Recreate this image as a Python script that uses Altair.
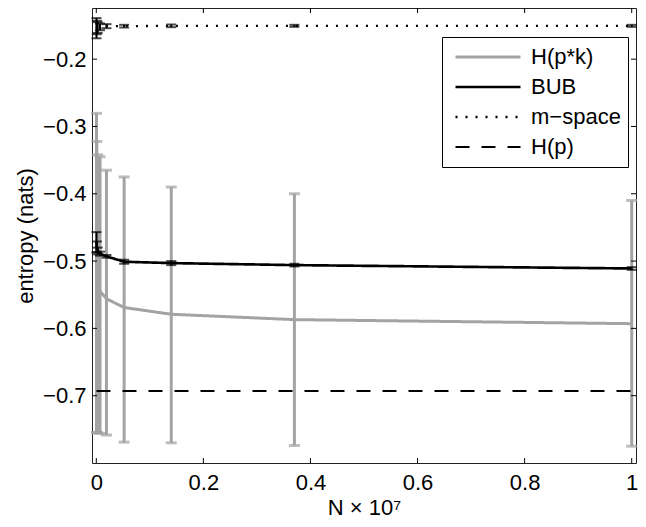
import altair as alt
import pandas as pd

# ---- data (N in units of 1e7) ----
N = [1.0, 0.37, 0.14, 0.052, 0.019, 0.007, 0.0026, 0.001, 0.0004]

Hpk_mean = [-0.593, -0.587, -0.579, -0.569, -0.556, -0.545, -0.535, -0.520, -0.500]
Hpk_hi = [-0.410, -0.400, -0.390, -0.375, -0.365, -0.345, -0.342, -0.3225, -0.2805]
Hpk_lo = [-0.775, -0.774, -0.770, -0.769, -0.7585, -0.756, -0.755, -0.755, -0.7545]

BUB_mean = [-0.511, -0.506, -0.503, -0.501, -0.493, -0.489, -0.485, -0.479, -0.472]
BUB_err = [0.002, 0.002, 0.003, 0.003, 0.002, 0.003, 0.005, 0.008, 0.015]

MS_mean = [-0.1505, -0.1505, -0.1505, -0.151, -0.151, -0.152, -0.153, -0.153, -0.154]
MS_err = [0.0015, 0.0015, 0.002, 0.002, 0.003, 0.005, 0.008, 0.010, 0.015]

Hp = [-0.6931, -0.6931, -0.6931, -0.6931, -0.6931, -0.6931, -0.6931, -0.6931, -0.6931]

series_names = ["H(p*k)", "BUB", "m\u2212space", "H(p)"]
x_ticks = [0, 0.2, 0.4, 0.6, 0.8, 1.0]
y_ticks = [-0.7, -0.6, -0.5, -0.4, -0.3, -0.2]

W, H = 544, 455
GRAY = "#a3a3a3"
FONT = "Liberation Sans"

# ---- tables ----
lines = pd.DataFrame(
    [{"series": series_names[0], "x": n, "y": v} for n, v in zip(N, Hpk_mean)]
    + [{"series": series_names[1], "x": n, "y": v} for n, v in zip(N, BUB_mean)]
    + [{"series": series_names[2], "x": n, "y": v} for n, v in zip(N, MS_mean)]
    + [{"series": series_names[3], "x": n, "y": v} for n, v in zip(N, Hp)]
)
gray_err = pd.DataFrame({"x": N, "lo": Hpk_lo, "hi": Hpk_hi})
black_err = pd.DataFrame(
    {"x": N + N,
     "lo": [m - e for m, e in zip(BUB_mean, BUB_err)] + [m - e for m, e in zip(MS_mean, MS_err)],
     "hi": [m + e for m, e in zip(BUB_mean, BUB_err)] + [m + e for m, e in zip(MS_mean, MS_err)]}
)
xt = pd.DataFrame({"x": x_ticks})
yt = pd.DataFrame({"y": y_ticks})

xs = alt.Scale(domain=[-0.008, 1.008], nice=False, zero=False)
ys = alt.Scale(domain=[-0.8, -0.124], nice=False, zero=False)

xaxis = alt.Axis(values=x_ticks, format="~g", labelPadding=9, titlePadding=4,
                 tickSize=0, ticks=False, domain=False, grid=False)
yaxis = alt.Axis(values=y_ticks, format=".1f", labelPadding=6, titlePadding=5,
                 tickSize=0, ticks=False, domain=False, grid=False)

XT = "N \u00d7 10\u2077"
YT = "entropy (nats)"


def X(f="x"):
    return alt.X(f"{f}:Q", scale=xs, axis=xaxis, title=XT)


def Y(f):
    return alt.Y(f"{f}:Q", scale=ys, axis=yaxis, title=YT)


gray_bars = alt.Chart(gray_err).mark_rule(color=GRAY, strokeWidth=3).encode(
    x=X(), y=Y("lo"), y2="hi")
gray_caps_lo = alt.Chart(gray_err).mark_tick(color=GRAY, size=11, thickness=3, orient="horizontal").encode(
    x=X(), y=Y("lo"))
gray_caps_hi = alt.Chart(gray_err).mark_tick(color=GRAY, size=11, thickness=3, orient="horizontal").encode(
    x=X(), y=Y("hi"))

leg = alt.Legend(title=None, orient="none", legendX=350, legendY=29,
                 symbolType="stroke", symbolSize=4225, symbolOffset=5, clipHeight=26,
                 labelFontSize=22, labelFont=FONT,
                 labelColor="black", strokeColor="black", fillColor="white",
                 padding=7, rowPadding=4, labelOffset=9, cornerRadius=0)

line_layer = alt.Chart(lines).mark_line(strokeCap="butt").encode(
    x=X(), y=Y("y"),
    color=alt.Color("series:N", scale=alt.Scale(domain=series_names, range=[GRAY, "black", "black", "black"]), legend=leg),
    strokeDash=alt.StrokeDash("series:N", scale=alt.Scale(domain=series_names, range=[[1, 0], [1, 0], [2, 8], [14, 12]]), legend=leg),
    strokeWidth=alt.StrokeWidth("series:N", scale=alt.Scale(domain=series_names, range=[3, 2, 2, 2]), legend=leg),
    order="x:Q",
)

black_bars = alt.Chart(black_err).mark_rule(color="black", strokeWidth=2).encode(
    x=X(), y=Y("lo"), y2="hi")
black_caps_lo = alt.Chart(black_err).mark_tick(color="black", size=10, thickness=2, orient="horizontal").encode(
    x=X(), y=Y("lo"))
black_caps_hi = alt.Chart(black_err).mark_tick(color="black", size=10, thickness=2, orient="horizontal").encode(
    x=X(), y=Y("hi"))

tick_b = alt.Chart(xt).mark_rule(color="black", strokeWidth=1).encode(x=X(), y=alt.value(H), y2=alt.value(H - 5))
tick_t = alt.Chart(xt).mark_rule(color="black", strokeWidth=1).encode(x=X(), y=alt.value(0), y2=alt.value(5))
tick_l = alt.Chart(yt).mark_rule(color="black", strokeWidth=1).encode(y=Y("y"), x=alt.value(0), x2=alt.value(5))
tick_r = alt.Chart(yt).mark_rule(color="black", strokeWidth=1).encode(y=Y("y"), x=alt.value(W), x2=alt.value(W - 5))

chart = alt.layer(
    gray_bars, gray_caps_lo, gray_caps_hi, line_layer,
    black_bars, black_caps_lo, black_caps_hi,
    tick_b, tick_t, tick_l, tick_r,
).properties(
    width=W, height=H,
    autosize=alt.AutoSizeParams(type="none"),
    padding={"left": 84, "top": 0, "right": 2, "bottom": 56},
).configure_view(
    stroke="#222", strokeWidth=1
).configure_axis(
    labelFont=FONT, labelFontSize=22, labelColor="black",
    titleFont=FONT, titleFontSize=22, titleFontWeight="normal", titleColor="black",
)

chart.save("out.html", embed_options={"renderer": "svg", "actions": False})
